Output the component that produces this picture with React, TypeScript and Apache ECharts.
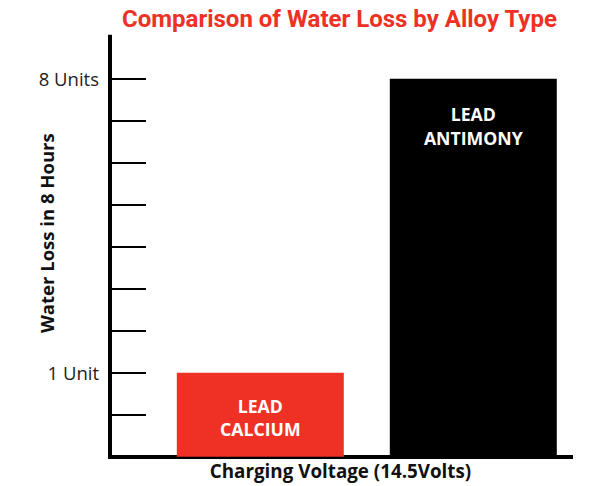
import React, { useEffect, useRef } from "react";
import * as echarts from "echarts";

const TITLE = "Comparison of Water Loss by Alloy Type";
const X_NAME = "Charging Voltage (14.5Volts)";
const Y_NAME = "Water Loss in 8 Hours";
const CATEGORIES = ["LEAD\nCALCIUM", "LEAD\nANTIMONY"];
const WATER_LOSS_UNITS = [1, 8];
const BAR_COLORS = ["#EE3124", "#000000"];
const TICK_VALUES = [0, 1, 2, 3, 4, 5, 6, 7, 8];
const LABELED_TICKS = [1, 8];
const AXIS_MIN = -1;
const AXIS_MAX = 9;

export default function App() {
  const ref = useRef<HTMLDivElement>(null);
  useEffect(() => {
    if (!ref.current) return;
    const chart = echarts.init(ref.current, null, { renderer: "svg" });
    const font = "'Open Sans', sans-serif";
    chart.setOption({
      animation: false,
      backgroundColor: "#ffffff",
      title: {
        text: TITLE,
        left: 117,
        top: 2,
        textStyle: {
          fontSize: 24,
          fontWeight: "bold",
          color: "#EE3124",
          fontFamily: "Roboto, sans-serif",
        },
      },
      grid: [
        { left: 110, right: 21, top: 36.7, bottom: 29.3 },
        { left: 153.8, right: 12.2, top: 36.7, bottom: 29.3 },
      ],
      xAxis: [
        {
          gridIndex: 0,
          type: "value",
          min: 0,
          max: 1,
          axisLine: { show: true, onZero: false, lineStyle: { color: "#000", width: 4, cap: "square" } },
          axisTick: { show: false },
          axisLabel: { show: false },
          splitLine: { show: false },
          name: X_NAME,
          nameLocation: "middle",
          nameGap: 5,
          nameMoveOverlap: false,
          nameTextStyle: { fontSize: 18.8, fontWeight: "bold", color: "#111", fontFamily: font, verticalAlign: "top" },
        },
        {
          gridIndex: 1,
          type: "category",
          data: CATEGORIES,
          show: false,
        },
      ],
      yAxis: [
        {
          gridIndex: 0,
          type: "value",
          min: AXIS_MIN,
          max: AXIS_MAX,
          interval: 1,
          axisLine: { show: true, onZero: false, lineStyle: { color: "#000", width: 4, cap: "square" } },
          axisTick: {
            show: true,
            inside: true,
            length: 36,
            customValues: TICK_VALUES,
            lineStyle: { color: "#000", width: 2 },
          },
          axisLabel: {
            show: true,
            customValues: LABELED_TICKS,
            margin: 11,
            fontSize: 18.5,
            color: "#222",
            fontFamily: font,
            formatter: (v: number) => (v === 1 ? "1 Unit" : `${v} Units`),
          },
          splitLine: { show: false },
          name: Y_NAME,
          nameLocation: "middle",
          nameGap: 54,
          nameMoveOverlap: false,
          nameTextStyle: {
            fontSize: 18.5,
            fontWeight: "bold",
            color: "#111",
            fontFamily: font,
            padding: [0, 0, 0, 27],
          },
        },
        {
          gridIndex: 1,
          type: "value",
          min: AXIS_MIN,
          max: AXIS_MAX,
          startValue: AXIS_MIN,
          show: false,
          splitLine: { show: false },
        },
      ],
      series: [
        {
          type: "bar",
          xAxisIndex: 1,
          yAxisIndex: 1,
          barWidth: 167,
          data: WATER_LOSS_UNITS.map((v, i) => ({
            value: v,
            itemStyle: { color: BAR_COLORS[i] },
            label: {
              show: true,
              position: i === 0 ? "inside" : "insideTop",
              distance: i === 0 ? 5 : 24,
              offset: i === 0 ? [0, 3] : [0, 0],
              formatter: "{b}",
              color: "#fff",
              fontSize: 17.7,
              fontWeight: "bold",
              fontFamily: font,
              lineHeight: 23.5,
              align: "center",
            },
          })),
        },
      ],
    });
    return () => chart.dispose();
  }, []);
  return (
    <div
      ref={ref}
      style={{ position: "absolute", left: 0, top: 0, width: 592, height: 486 }}
    />
  );
}
